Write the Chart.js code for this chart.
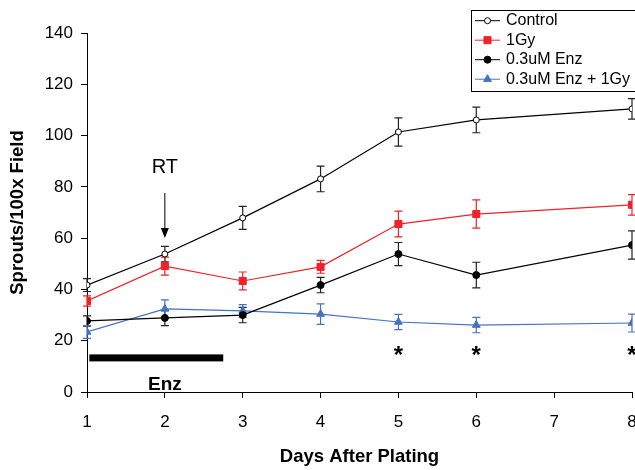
<!DOCTYPE html>
<html>
<head>
<meta charset="utf-8">
<script src="https://cdn.jsdelivr.net/npm/chart.js@4.4.0/dist/chart.umd.min.js"></script>
<style>
  html, body { margin: 0; padding: 0; background: #fff; }
  #wrap { width: 635px; height: 470px; position: relative; }
</style>
</head>
<body>
<div id="wrap"><canvas id="chart"></canvas></div>
<script>
// --- data ---
const days = [1, 2, 3, 4, 5, 6, 8];
const seriesLabels = ['Control', '1Gy', '0.3uM Enz', '0.3uM Enz + 1Gy'];

const control    = [41.7, 53.8, 67.9, 83.1, 101.4, 106.1, 110.4];
const controlErr = [2.5, 3, 4.5, 5, 5.5, 5, 4];
const gy1        = [35.5, 49.1, 43.3, 48.8, 65.5, 69.4, 73.0];
const gy1Err     = [2, 3.5, 3.5, 2.5, 5, 5.5, 4];
const enz        = [27.7, 28.9, 30.0, 41.7, 53.8, 45.6, 57.3];
const enzErr     = [2, 3, 3, 3, 4.5, 5, 5.5];
const enzGy      = [23.4, 32.4, 31.6, 30.4, 27.3, 26.1, 26.9];
const enzGyErr   = [2.5, 3.5, 2.5, 4, 3, 3, 3.5];

const starDays = [5, 6, 8];
const enzPeriod = [1.03, 2.75];

const FONT = 'Liberation Sans, Arial, sans-serif';
const RED = '#ee2229';
const BLUE = '#4472c4';

const pts = vals => vals.map((v, i) => ({ x: days[i], y: v }));

// error bars, drawn from the same scales as the points
const errorBars = {
  id: 'errorBars',
  beforeDatasetsDraw(chart) {
    const { ctx, scales: { x, y } } = chart;
    chart.data.datasets.forEach(ds => {
      ctx.save();
      ctx.strokeStyle = ds.errColor || ds.borderColor;
      ctx.lineWidth = 1.2;
      ds.data.forEach((p, i) => {
        const e = ds.err[i];
        const px = x.getPixelForValue(p.x);
        const top = y.getPixelForValue(p.y + e);
        const bot = y.getPixelForValue(p.y - e);
        ctx.beginPath();
        ctx.moveTo(px, top); ctx.lineTo(px, bot);
        ctx.moveTo(px - 4, top); ctx.lineTo(px + 4, top);
        ctx.moveTo(px - 4, bot); ctx.lineTo(px + 4, bot);
        ctx.stroke();
      });
      ctx.restore();
    });
  }
};

// RT arrow, Enz bar and significance stars
const annotations = {
  id: 'annotations',
  afterDraw(chart) {
    const { ctx, scales: { x, y } } = chart;
    ctx.save();
    ctx.fillStyle = '#000';
    ctx.strokeStyle = '#000';

    // RT arrow
    const ax = x.getPixelForValue(2);
    ctx.font = '20px ' + FONT;
    ctx.textAlign = 'center';
    ctx.textBaseline = 'middle';
    ctx.fillText('RT', ax, y.getPixelForValue(87.4));
    const aTop = y.getPixelForValue(77.6);
    const aTip = y.getPixelForValue(60.1);
    ctx.lineWidth = 1;
    ctx.beginPath();
    ctx.moveTo(ax, aTop); ctx.lineTo(ax, aTip - 8);
    ctx.stroke();
    ctx.beginPath();
    ctx.moveTo(ax - 4, aTip - 10);
    ctx.lineTo(ax + 4, aTip - 10);
    ctx.lineTo(ax, aTip);
    ctx.closePath();
    ctx.fill();

    // Enz treatment bar
    const bx1 = x.getPixelForValue(enzPeriod[0]);
    const bx2 = x.getPixelForValue(enzPeriod[1]);
    const by = y.getPixelForValue(13.3);
    ctx.fillRect(bx1, by - 3.5, bx2 - bx1, 7);
    ctx.font = 'bold 19px ' + FONT;
    ctx.fillText('Enz', x.getPixelForValue(2), y.getPixelForValue(2.9));

    // stars
    ctx.font = 'bold 24px ' + FONT;
    starDays.forEach(d => {
      ctx.fillText('*', x.getPixelForValue(d), y.getPixelForValue(13.8));
    });
    ctx.restore();
  }
};

// boxed legend in the top right corner
const boxLegend = {
  id: 'boxLegend',
  afterDraw(chart) {
    const { ctx } = chart;
    const left = 471, top = 10, w = 170, h = 81;
    ctx.save();
    ctx.fillStyle = '#fff';
    ctx.fillRect(left, top, w, h);
    ctx.strokeStyle = '#000';
    ctx.lineWidth = 1;
    ctx.strokeRect(left + 0.5, top + 0.5, w, h);
    ctx.font = '16px ' + FONT;
    ctx.textBaseline = 'middle';
    ctx.textAlign = 'left';
    chart.data.datasets.forEach((ds, i) => {
      const cy = 20.7 + i * 19.5;
      ctx.strokeStyle = ds.borderColor;
      ctx.lineWidth = 1;
      ctx.beginPath();
      ctx.moveTo(475, cy); ctx.lineTo(500, cy);
      ctx.stroke();
      ctx.save();
      ctx.fillStyle = ds.pointBackgroundColor;
      ctx.strokeStyle = ds.pointBorderColor;
      ctx.lineWidth = 1;
      Chart.helpers.drawPoint(ctx, {
        pointStyle: ds.pointStyle, rotation: 0, borderWidth: 1,
        radius: ds.pointRadius
      }, 487.5, cy);
      ctx.restore();
      ctx.fillStyle = '#000';
      ctx.fillText(ds.label, 506, cy);
    });
    ctx.restore();
  }
};

const noPad = () => ({ left: 0, top: 0, right: 0, bottom: 0 });

const datasets = [
  { label: seriesLabels[0], data: pts(control), err: controlErr,
    borderColor: '#000', errColor: '#222', pointStyle: 'circle', pointRadius: 3,
    pointBackgroundColor: '#fff', pointBorderColor: '#000' },
  { label: seriesLabels[1], data: pts(gy1), err: gy1Err,
    borderColor: RED, pointStyle: 'rect', pointRadius: 5,
    pointBackgroundColor: RED, pointBorderColor: RED },
  { label: seriesLabels[2], data: pts(enz), err: enzErr,
    borderColor: '#000', errColor: '#222', pointStyle: 'circle', pointRadius: 3.5,
    pointBackgroundColor: '#000', pointBorderColor: '#000' },
  { label: seriesLabels[3], data: pts(enzGy), err: enzGyErr,
    borderColor: BLUE, pointStyle: 'triangle', pointRadius: 4.5,
    pointBackgroundColor: BLUE, pointBorderColor: BLUE },
].map(d => ({ ...d, borderWidth: 1.2, pointBorderWidth: 1, tension: 0, fill: false }));

new Chart(document.getElementById('chart'), {
  type: 'line',
  data: { datasets },
  options: {
    responsive: true,
    maintainAspectRatio: false,
    animation: false,
    layout: { autoPadding: false, padding: { left: 0, top: 33, right: 3, bottom: 0 } },
    plugins: { legend: { display: false }, tooltip: { enabled: false } },
    scales: {
      x: {
        type: 'linear', min: 1, max: 8,
        grid: { display: true, drawOnChartArea: false, drawTicks: true, tickLength: 6, color: '#000' },
        border: { display: true, color: '#000', width: 1 },
        ticks: { stepSize: 1, color: '#000', padding: 14, font: { family: FONT, size: 17 } },
        title: { display: true, text: 'Days After Plating', color: '#000',
                 padding: { top: 0, bottom: 1.5 }, font: { family: FONT, size: 18.5, weight: 'bold' } },
        afterFit(scale) {
          scale.height = 78;
          scale.paddingLeft = 0; scale.paddingRight = 0;
          scale.getPadding = noPad;
        },
      },
      y: {
        min: 0, max: 140,
        grid: { display: true, drawOnChartArea: false, drawTicks: true, tickLength: 6, color: '#000' },
        border: { display: true, color: '#000', width: 1 },
        ticks: { stepSize: 20, color: '#000', padding: 8, font: { family: FONT, size: 17 } },
        title: { display: true, text: 'Sprouts/100x Field', color: '#000',
                 padding: { top: 6.5, bottom: 0 }, font: { family: FONT, size: 18.5, weight: 'bold' } },
        afterFit(scale) { scale.width = 87; },
      },
    },
  },
  plugins: [errorBars, annotations, boxLegend],
});
</script>
</body>
</html>
